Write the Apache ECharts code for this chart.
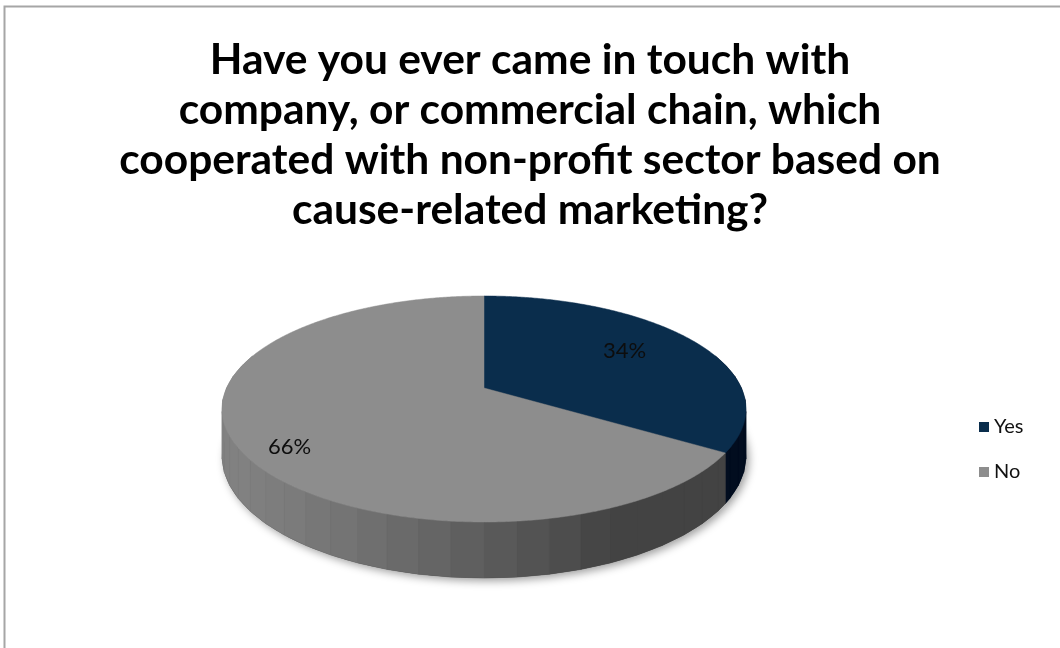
<!DOCTYPE html>
<html>
<head>
<meta charset="utf-8">
<script src="https://cdn.jsdelivr.net/npm/echarts@6/dist/echarts.min.js"></script>
<style>
  html, body { margin: 0; padding: 0; background: #fff; }
  #chart { width: 1060px; height: 648px; }
</style>
</head>
<body>
<div id="chart"></div>
<script>
// Survey answers
const categories = ['Yes', 'No'];
const values = [34, 66];
const titleLines = [
  'Have you ever came in touch with',
  'company, or commercial chain, which',
  'cooperated with non-profit sector based on',
  'cause-related marketing?'
];

// Colours of each slice: top face, unlit side, lit side
const topColors = ['#0a2d4c', '#8d8d8d'];
const sideDark = ['#020d1f', '#434343'];
const sideLit = ['#0b2a48', '#7c7c7c'];
// Label placement: fraction of the radius, plus a vertical nudge in pixels
const labelRadius = [0.66, 0.8];
const labelShiftY = [-4, 14];

const FONT = 'Lato, "Open Sans", sans-serif';

// Tilted-disc projection of the pie
const CX = 484, CY = 388, RX = 257.4, RY = 109.1, K = 0.1858, DROP = 45.6;
const FACET = Math.PI / 30;

function proj(alpha, r, drop) {
  const u = Math.sin(alpha) * r;
  const v = -Math.cos(alpha) * r;
  const w = 1 - K * v;
  return [CX + RX * u / w, CY + (RY * v + drop) / w];
}

function hexToRgb(h) {
  const n = parseInt(h.slice(1), 16);
  return [(n >> 16) & 255, (n >> 8) & 255, n & 255];
}
function mix(a, b, t) {
  const ca = hexToRgb(a), cb = hexToRgb(b);
  const c = ca.map((x, i) => Math.round(x + (cb[i] - x) * t));
  return 'rgb(' + c.join(',') + ')';
}

// Light comes from the left and slightly from the front
const LX = -0.913, LV = 0.408;

const total = values.reduce((s, x) => s + x, 0);
const starts = [];
let acc = 0;
values.forEach(v => { starts.push(acc / total * Math.PI * 2); acc += v; });

function makeRender(i) {
  return function (params, api) {
    const val = api.value(0);
    const a0 = starts[i];
    const a1 = a0 + val / total * Math.PI * 2;
    const children = [];

    // Bottom face, carrying the soft drop shadow
    const base = [proj(0, 0, DROP)];
    for (let a = a0; a < a1; a += Math.PI / 180) base.push(proj(a, 1, DROP));
    base.push(proj(a1, 1, DROP));
    children.push({
      type: 'polygon', z2: 0,
      shape: { points: base },
      style: {
        fill: sideDark[i],
        shadowBlur: 9, shadowColor: 'rgba(0,0,0,0.38)',
        shadowOffsetX: 3, shadowOffsetY: 3
      }
    });

    // Faceted outer wall
    let f0 = a0;
    while (f0 < a1 - 1e-9) {
      const f1 = Math.min(a1, (Math.floor(f0 / FACET + 1e-9) + 1) * FACET);
      const m = (f0 + f1) / 2;
      const nu = Math.sin(m), nv = -Math.cos(m);
      if (nv > -0.3) {
        const lit = Math.max(0, nu * LX + nv * LV);
        const col = mix(sideDark[i], sideLit[i], lit / 0.913);
        children.push({
          type: 'polygon', z2: 2 + nv,
          shape: { points: [proj(f0, 1, 0), proj(f1, 1, 0), proj(f1, 1, DROP), proj(f0, 1, DROP)] },
          style: { fill: col, stroke: col, lineWidth: 0.6 }
        });
      }
      f0 = f1;
    }

    // Cut faces at the slice edges, visible when they face the viewer
    [a0, a1].forEach(function (a) {
      children.push({
        type: 'polygon', z2: 1,
        shape: { points: [proj(0, 0, 0), proj(a, 1, 0), proj(a, 1, DROP), proj(0, 0, DROP)] },
        style: { fill: sideDark[i] }
      });
    });

    // Top face
    const top = [proj(0, 0, 0)];
    for (let a = a0; a < a1; a += Math.PI / 360) top.push(proj(a, 1, 0));
    top.push(proj(a1, 1, 0));
    children.push({
      type: 'polygon', z2: 5,
      shape: { points: top },
      style: { fill: topColors[i], stroke: topColors[i], lineWidth: 0.5 }
    });

    // Percentage label
    const mid = (a0 + a1) / 2;
    const p = proj(mid, labelRadius[i], 0);
    children.push({
      type: 'text', z2: 10,
      x: p[0], y: p[1] + labelShiftY[i],
      style: {
        text: Math.round(val / total * 100) + '%',
        fill: '#0d0d0d', font: '22px ' + FONT,
        align: 'center', verticalAlign: 'middle'
      }
    });

    return { type: 'group', children: children };
  };
}

const chart = echarts.init(document.getElementById('chart'), null, { renderer: 'canvas' });
chart.setOption({
  animation: false,
  backgroundColor: '#ffffff',
  title: {
    text: titleLines.join('\n'),
    left: 'center',
    top: 30,
    padding: [5, 0, 5, 6],
    textStyle: {
      fontFamily: FONT, fontSize: 42.5, fontWeight: 'bold',
      lineHeight: 50, color: '#000'
    }
  },
  legend: {
    data: categories,
    orient: 'vertical',
    left: 974,
    top: 412,
    icon: 'rect',
    itemWidth: 10,
    itemHeight: 10,
    itemGap: 25,
    selectedMode: false,
    textStyle: { fontFamily: FONT, fontSize: 20, color: '#111' }
  },
  graphic: [{
    type: 'rect',
    shape: { x: 4.5, y: 6.5, width: 1080, height: 680 },
    style: { fill: 'none', stroke: '#a6a6a6', lineWidth: 2 },
    silent: true
  }],
  series: categories.map((name, i) => ({
    type: 'custom',
    name: name,
    coordinateSystem: 'none',
    itemStyle: { color: topColors[i] },
    data: [values[i]],
    renderItem: makeRender(i)
  }))
});
</script>
</body>
</html>
